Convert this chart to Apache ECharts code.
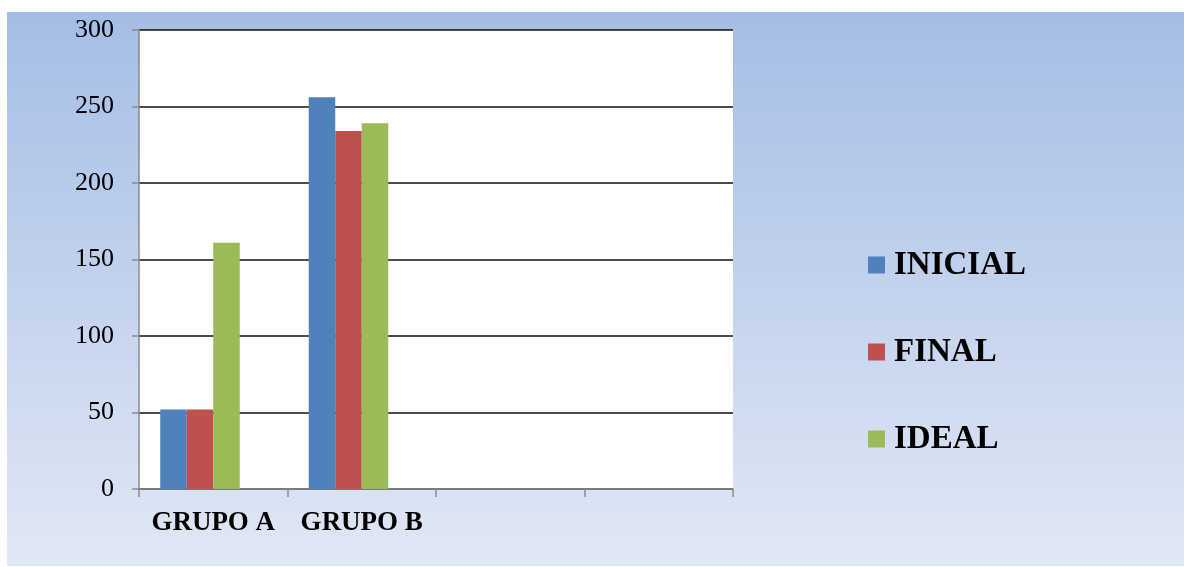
<!DOCTYPE html>
<html>
<head>
<meta charset="utf-8">
<style>
html,body{margin:0;padding:0;background:#fff;}
#chart{width:1184px;height:567px;}
</style>
<script src="https://cdn.jsdelivr.net/npm/echarts@6/dist/echarts.min.js"></script>
</head>
<body>
<div id="chart"></div>
<script>
var categories = ['GRUPO A', 'GRUPO B', '', ''];
var inicial = [52, 256, null, null];
var finalV = [52, 234, null, null];
var ideal = [161, 239, null, null];
var hidden = [null, null, null, null];
var yTicks = [0, 50, 100, 150, 200, 250, 300];

var serif = '"Liberation Serif", "DejaVu Serif", serif';
var chart = echarts.init(document.getElementById('chart'), null, {renderer: 'canvas'});
chart.setOption({
  backgroundColor: '#ffffff',
  animation: false,
  graphic: [{
    type: 'rect', z: -10, silent: true,
    shape: {x: 7, y: 12, width: 1177, height: 554},
    style: {fill: new echarts.graphic.LinearGradient(0, 0, 0, 1, [
      {offset: 0, color: '#a5bde6'},
      {offset: 1, color: '#e1e8f5'}
    ])}
  }],
  grid: {left: 139, right: 451, top: 30, bottom: 78, show: true, backgroundColor: '#ffffff', borderWidth: 0},
  legend: {
    data: ['INICIAL', 'FINAL', 'IDEAL'],
    orient: 'vertical', left: 863, top: 243,
    itemWidth: 17, itemHeight: 17, itemGap: 53,
    icon: 'rect',
    textStyle: {fontFamily: serif, fontWeight: 'bold', fontSize: 33, color: '#000', lineHeight: 34, padding: [0, 0, 0, 4]}
  },
  xAxis: {
    type: 'category', data: categories,
    axisLine: {lineStyle: {color: '#8a8a8a', width: 1.5}},
    axisTick: {show: true, length: 8, interval: 0, alignWithLabel: false, lineStyle: {color: '#8a8a8a', width: 1.5}},
    axisLabel: {interval: 0, fontFamily: serif, fontWeight: 'bold', fontSize: 27, color: '#000', margin: 21}
  },
  yAxis: {
    type: 'value', min: yTicks[0], max: yTicks[yTicks.length - 1], interval: 50,
    axisLine: {show: true, lineStyle: {color: '#8a8a8a', width: 1.5}},
    axisTick: {show: true, length: 7, lineStyle: {color: '#8a8a8a', width: 1.5}},
    axisLabel: {fontFamily: serif, fontSize: 26, color: '#000', margin: 25},
    splitLine: {show: true, lineStyle: {color: '#111', width: 1.5}}
  },
  series: [
    {name: 'INICIAL', type: 'bar', data: inicial, barGap: '0%', barCategoryGap: '28.6%', itemStyle: {color: '#4f81bd'}},
    {name: 'FINAL', type: 'bar', data: finalV, itemStyle: {color: '#c0504d'}},
    {name: 'IDEAL', type: 'bar', data: ideal, itemStyle: {color: '#9bbb59'}},
    {name: 'hidden', type: 'bar', data: hidden, itemStyle: {color: 'transparent'}}
  ]
});
</script>
</body>
</html>
